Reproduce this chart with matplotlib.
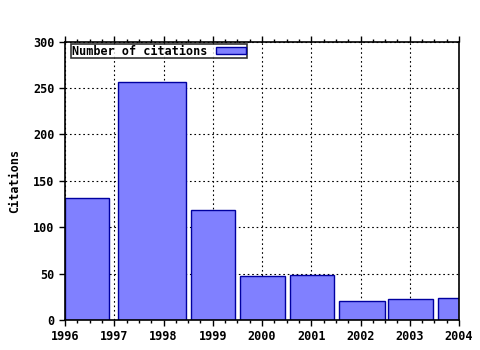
import matplotlib
matplotlib.use("Agg")
import matplotlib.pyplot as plt
from matplotlib.ticker import AutoMinorLocator

# data
bar_years = [1996, 1998, 1999, 2000, 2001, 2002, 2003, 2004]
citations = [131, 257, 119, 47, 48, 21, 23, 24]
xticks = [1996, 1997, 1998, 1999, 2000, 2001, 2002, 2003, 2004]
yticks = [0, 50, 100, 150, 200, 250, 300]

# bar extents relative to year (layout)
left_off = [0.0, -0.92, -0.45, -0.45, -0.43, -0.43, -0.45, -0.43]
right_off = [0.9, 0.45, 0.45, 0.47, 0.47, 0.49, 0.47, 0.45]

plt.rcParams['font.family'] = ['DejaVu Sans Mono']
plt.rcParams['font.weight'] = 'bold'

fig = plt.figure(figsize=(4.8, 3.5), dpi=100)
ax = fig.add_axes([65/480, 30/350, (459-65)/480, (320-41.7)/350])

lefts = [y + l for y, l in zip(bar_years, left_off)]
widths = [r - l for l, r in zip(left_off, right_off)]
ax.bar(lefts, citations, width=widths, align='edge', color='#8080ff',
       edgecolor='#0000a0', linewidth=1.0, zorder=3, label='Number of citations')

ax.set_xlim(1996, 2004)
ax.set_ylim(0, 300)
ax.set_xticks(xticks)
ax.set_xticklabels([str(t) for t in xticks])
ax.set_yticks(yticks)
ax.xaxis.set_minor_locator(AutoMinorLocator(4))
ax.tick_params(axis='x', which='both', top=True, bottom=True, direction='out', labelsize=8.5)
ax.tick_params(axis='x', which='major', length=4, width=1)
ax.tick_params(axis='x', which='minor', length=2, width=1)
ax.tick_params(axis='y', which='major', left=True, right=False, direction='out', length=4, width=1, labelsize=8.5)
ax.grid(True, which='major', color='black', linestyle=(0, (1.5, 2.5)), linewidth=0.8, zorder=1)
ax.set_axisbelow(True)
for s in ax.spines.values():
    s.set_linewidth(1.2)
    s.set_zorder(4)

ax.set_ylabel('Citations', fontsize=8.5, fontweight='bold', labelpad=9)

leg = ax.legend(loc='upper left', markerfirst=False, frameon=True, fancybox=False,
                fontsize=8.5, borderpad=0.05, handlelength=2.6, handleheight=0.6,
                borderaxespad=0.2, handletextpad=0.7, bbox_to_anchor=(0.01, 1.0))
leg.get_frame().set_edgecolor('black')
leg.get_frame().set_linewidth(1.2)

fig.savefig('out.png', dpi=100)
